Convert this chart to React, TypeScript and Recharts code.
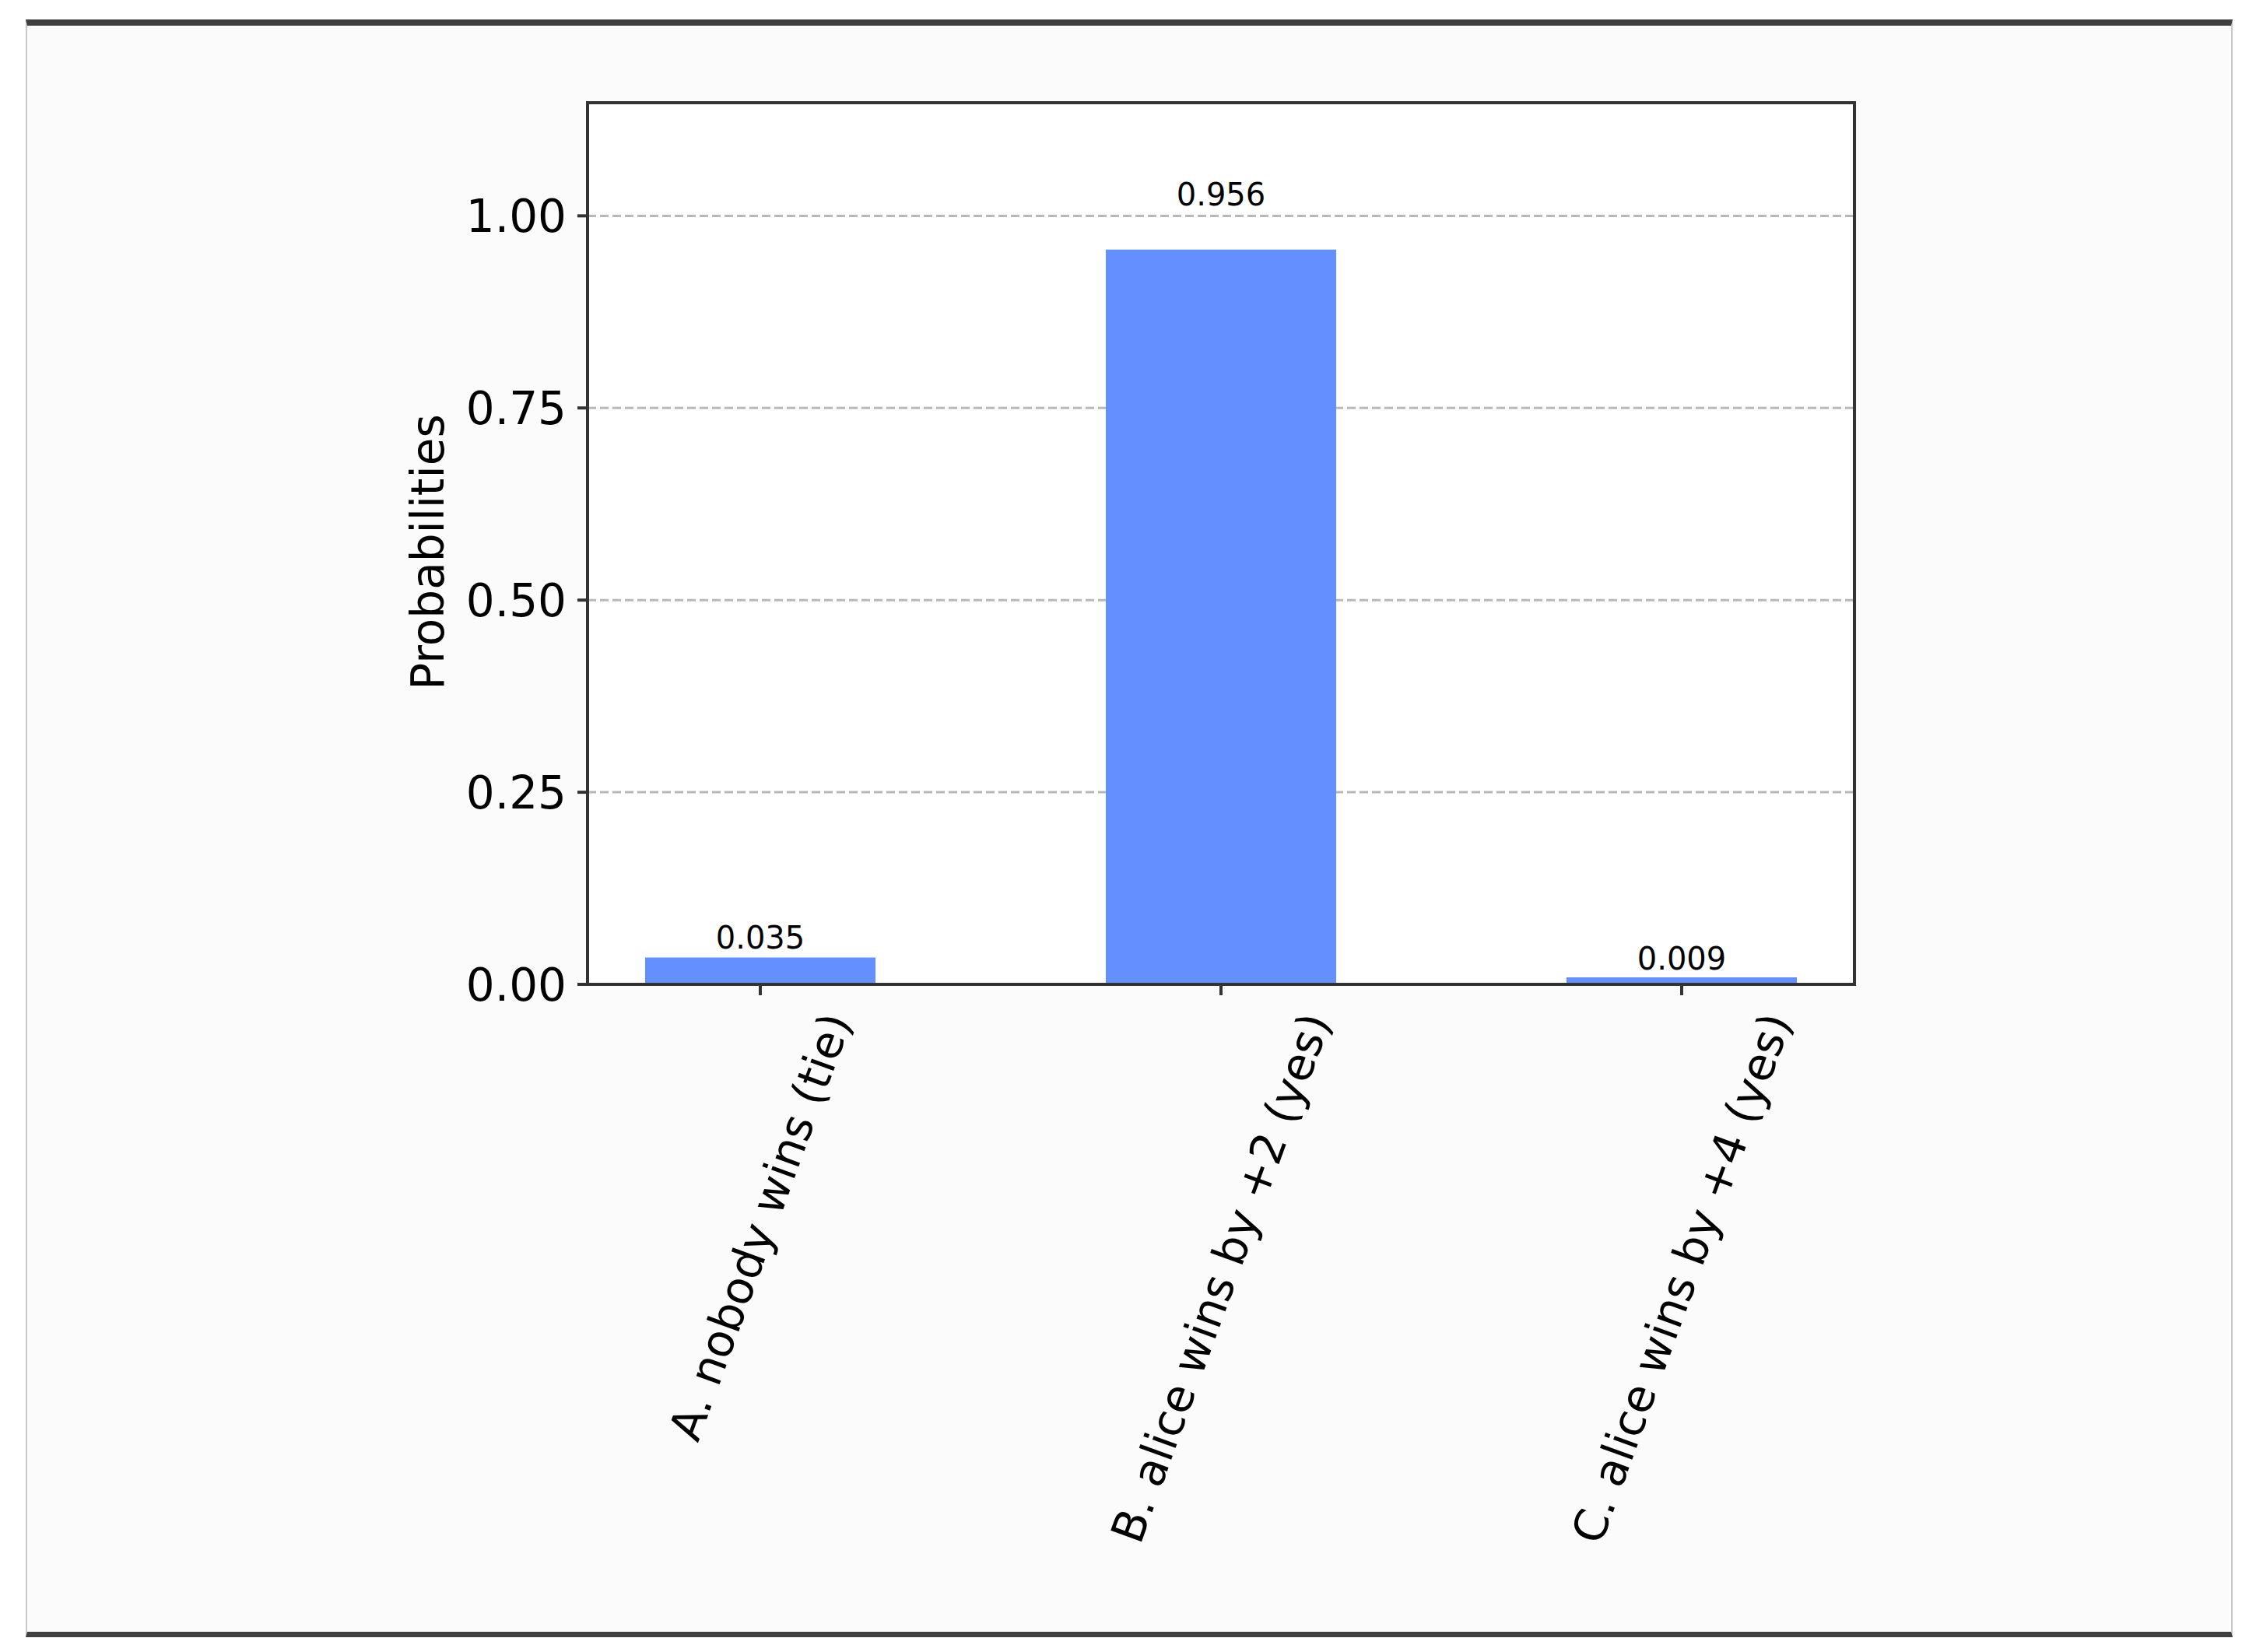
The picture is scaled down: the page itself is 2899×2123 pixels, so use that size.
import React from 'react';
import {
  Bar,
  BarChart,
  CartesianGrid,
  LabelList,
  ReferenceArea,
  XAxis,
  YAxis,
} from 'recharts';

const categories = [
  'A. nobody wins (tie)',
  'B. alice wins by +2 (yes)',
  'C. alice wins by +4 (yes)',
];
const probabilities = [0.035, 0.956, 0.009];
const yTicks = [0, 0.25, 0.5, 0.75, 1.0];
const xTicks = categories.map((_, i) => i);

const data = categories.map((name, i) => ({
  pos: i,
  name,
  value: probabilities[i],
}));

// matplotlib-style limits: 20% headroom on y, 5% margin around the bars on x
const yMax = Math.max(...probabilities) * 1.2;
const xDomain = [-0.375, categories.length - 1 + 0.375];

const FONT = '"DejaVu Sans", "Liberation Sans", sans-serif';
const TICK_FONT = 58;
const VALUE_FONT = 40;
const INK = '#333333';
const BAR_COLOR = '#648fff';

let measureCtx: CanvasRenderingContext2D | null = null;
const measureText = (text: string, size: number) => {
  if (!measureCtx) {
    measureCtx = document.createElement('canvas').getContext('2d');
  }
  if (!measureCtx) return text.length * size * 0.55;
  measureCtx.font = `${size}px "DejaVu Sans"`;
  return measureCtx.measureText(text).width;
};

// rotated label, box centred under the tick like matplotlib's rotation=70
const XTick = (props: any) => {
  const { x, y, payload } = props;
  const label = categories[payload.value] ?? '';
  const len = measureText(label, TICK_FONT);
  const h = TICK_FONT * 1.164;
  const rad = (70 * Math.PI) / 180;
  const boxH = len * Math.sin(rad) + h * Math.cos(rad);
  const cy = y + boxH / 2;
  return (
    <text
      x={x}
      y={cy}
      transform={`rotate(-70, ${x}, ${cy})`}
      textAnchor="middle"
      dominantBaseline="central"
      fontSize={TICK_FONT}
      fontFamily={FONT}
      fill="#000"
    >
      {label}
    </text>
  );
};

// value placed at 1.05 * height, bottom aligned
const renderValueLabel = (props: any) => {
  const { x, y, width, height, value } = props;
  const cx = x + width / 2;
  const anchorY = y - 0.05 * height;
  return (
    <text
      x={cx}
      y={anchorY - 0.236 * VALUE_FONT}
      textAnchor="middle"
      fontSize={VALUE_FONT}
      fontFamily={FONT}
      fill="#000"
    >
      {Number(value).toFixed(3)}
    </text>
  );
};

const renderYLabel = (props: any) => {
  const vb = props.viewBox;
  const bx = vb.x + vb.width - 185;
  const cy = vb.y + vb.height / 2 + 11;
  return (
    <text
      x={bx}
      y={cy}
      transform={`rotate(-90, ${bx}, ${cy})`}
      textAnchor="middle"
      fontSize={TICK_FONT}
      fontFamily={FONT}
      fill="#000"
    >
      Probabilities
    </text>
  );
};

const App: React.FC = () => {
  return (
    <div
      style={{
        position: 'absolute',
        left: 0,
        top: 0,
        width: 2899,
        height: 2123,
        background: '#ffffff',
      }}
    >
      <div
        style={{
          position: 'absolute',
          left: 33,
          top: 25,
          width: 2836,
          height: 2079,
          boxSizing: 'border-box',
          background: '#fbfbfb',
          borderTop: '8px solid #404040',
          borderBottom: '7px solid #404040',
          borderLeft: '2px solid #c8c8c8',
          borderRight: '2px solid #c8c8c8',
        }}
      />
      <div style={{ position: 'absolute', left: 0, top: 0 }}>
        <BarChart
          width={2899}
          height={2123}
          data={data}
          margin={{ top: 132, right: 516, bottom: 158, left: 555 }}
          barCategoryGap="25%"
        >
          <CartesianGrid
            vertical={false}
            stroke="#b8b8b8"
            strokeWidth={3}
            strokeDasharray="11 5"
            fill="#ffffff"
          />
          <XAxis
            dataKey="pos"
            type="number"
            domain={xDomain}
            allowDataOverflow
            ticks={xTicks}
            interval={0}
            height={700}
            tickSize={14}
            tickMargin={14}
            tickLine={{ stroke: INK, strokeWidth: 4 }}
            axisLine={{ stroke: INK, strokeWidth: 4 }}
            tick={<XTick />}
          />
          <YAxis
            type="number"
            domain={[0, yMax]}
            allowDataOverflow
            ticks={yTicks}
            interval={0}
            width={200}
            tickSize={13}
            tickMargin={14}
            tickFormatter={(v: number) => v.toFixed(2)}
            tickLine={{ stroke: INK, strokeWidth: 4 }}
            axisLine={{ stroke: INK, strokeWidth: 4 }}
            tick={{ fontSize: TICK_FONT, fill: '#000', fontFamily: FONT }}
            label={{ content: renderYLabel }}
          />
          <Bar dataKey="value" fill={BAR_COLOR} isAnimationActive={false}>
            <LabelList dataKey="value" content={renderValueLabel} />
          </Bar>
          <ReferenceArea
            x1={xDomain[0]}
            x2={xDomain[1]}
            y1={0}
            y2={yMax}
            fill="none"
            fillOpacity={0}
            stroke={INK}
            strokeWidth={4}
            ifOverflow="visible"
          />
        </BarChart>
      </div>
    </div>
  );
};

export default App;
